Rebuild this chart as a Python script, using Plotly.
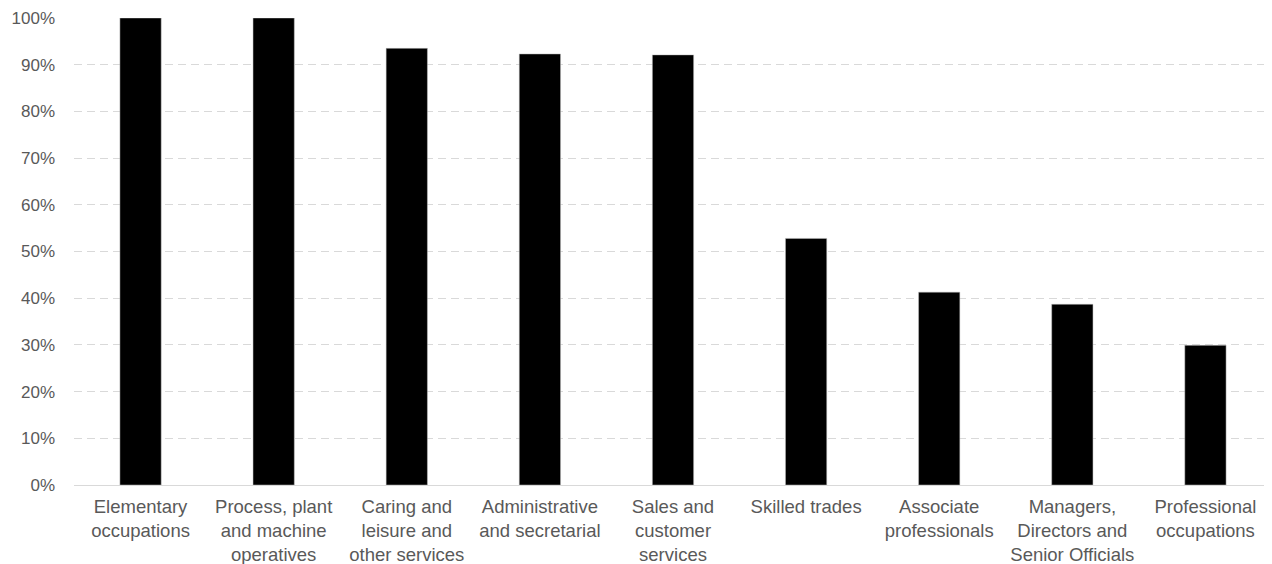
import plotly.graph_objects as go

categories = [
    "Elementary<br>occupations",
    "Process, plant<br>and machine<br>operatives",
    "Caring and<br>leisure and<br>other services",
    "Administrative<br>and secretarial",
    "Sales and<br>customer<br>services",
    "Skilled trades",
    "Associate<br>professionals",
    "Managers,<br>Directors and<br>Senior Officials",
    "Professional<br>occupations",
]
values = [100.0, 100.0, 93.5, 92.3, 92.1, 52.8, 41.3, 38.7, 29.9]
y_ticks = list(range(0, 101, 10))

fig = go.Figure(
    go.Bar(
        x=categories,
        y=values,
        marker=dict(color="#000000", line=dict(color="#bfbfbf", width=0.5)),
        width=0.31,
        hoverinfo="skip",
    )
)

fig.update_layout(
    width=1264,
    height=556,
    margin=dict(l=66, r=0, t=10, b=79),
    paper_bgcolor="white",
    plot_bgcolor="white",
    font=dict(family="Liberation Sans, Arial, sans-serif", color="#595959", size=18),
    showlegend=False,
)
fig.update_xaxes(
    showgrid=False,
    showline=True,
    linecolor="#d9d9d9",
    linewidth=1,
    ticks="",
    ticklabelstandoff=5,
    tickfont=dict(size=18.5, color="#595959"),
    range=[-0.5, 8.5],
)
fig.update_yaxes(
    range=[0, 100],
    tickvals=y_ticks,
    ticktext=[f"{v}%" for v in y_ticks],
    showgrid=True,
    gridcolor="#d9d9d9",
    gridwidth=1,
    griddash="8px,5px",
    zeroline=False,
    showline=False,
    ticks="",
    ticklabelstandoff=18,
    tickfont=dict(size=17, color="#595959"),
)

fig.write_html("out.html")
